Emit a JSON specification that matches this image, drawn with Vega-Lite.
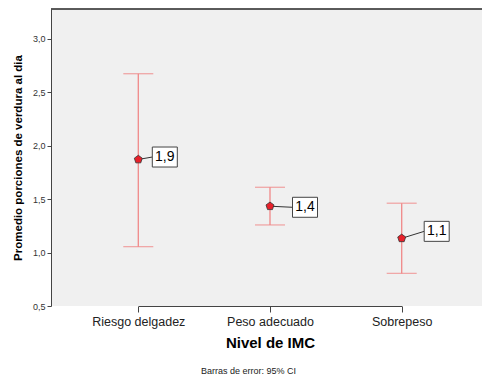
{
  "$schema": "https://vega.github.io/schema/vega-lite/v6.json",
  "width": 431,
  "height": 297,
  "autosize": {"type": "none"},
  "padding": {"left": 51, "top": 9, "right": 0, "bottom": 69},
  "background": "white",
  "config": {
    "font": "Liberation Sans",
    "view": {"stroke": null, "fill": "#f0f0f0"},
    "axis": {"grid": false, "domainColor": "#444", "tickColor": "#444", "labelColor": "#222", "titleColor": "#000", "titleFontWeight": "bold"}
  },
  "title": {"text": "Barras de error: 95% CI", "orient": "bottom", "fontSize": 9, "fontWeight": "normal", "color": "#222", "anchor": "middle", "dx": -18, "offset": 16},
  "data": {"values": [
    {"cat": "Riesgo delgadez", "mean": 1.87, "lo": 1.055, "hi": 2.672, "ly": 1.893, "lab": "1,9"},
    {"cat": "Peso adecuado", "mean": 1.433, "lo": 1.258, "hi": 1.61, "ly": 1.423, "lab": "1,4"},
    {"cat": "Sobrepeso", "mean": 1.133, "lo": 0.805, "hi": 1.461, "ly": 1.198, "lab": "1,1"}
  ]},
  "encoding": {
    "x": {"field": "cat", "type": "nominal", "sort": null,
      "scale": {"type": "point", "range": [87.3, 350.7], "padding": 0},
      "axis": {"title": "Nivel de IMC", "labelAngle": 0, "labelFontSize": 12.5, "tickSize": 6, "labelPadding": 3, "titleFontSize": 15, "titlePadding": 8}},
    "y": {"type": "quantitative"}
  },
  "layer": [
    {
      "mark": {"type": "rule", "color": "#f08888", "strokeWidth": 1.3},
      "encoding": {
        "y": {"field": "lo", "type": "quantitative",
          "scale": {"domain": [0.5, 3.277], "nice": false, "zero": false},
          "axis": {"title": "Promedio porciones de verdura al dia", "values": [0.5, 1, 1.5, 2, 2.5, 3], "labelExpr": "replace(format(datum.value, '.1f'), '.', ',')", "labelFontSize": 9, "labelColor": "#333", "tickSize": 4, "labelPadding": 2, "titleFontSize": 11.5, "titlePadding": 9}},
        "y2": {"field": "hi"}
      }
    },
    {
      "mark": {"type": "tick", "color": "#f08888", "thickness": 1.3, "size": 30, "orient": "horizontal"},
      "encoding": {"y": {"field": "lo", "type": "quantitative"}}
    },
    {
      "mark": {"type": "tick", "color": "#f08888", "thickness": 1.3, "size": 30, "orient": "horizontal"},
      "encoding": {"y": {"field": "hi", "type": "quantitative"}}
    },
    {
      "mark": {"type": "rule", "color": "#333", "strokeWidth": 1, "x2Offset": {"expr": "datum.cat === 'Riesgo delgadez' ? 14 : 22.5"}},
      "encoding": {
        "y": {"field": "mean", "type": "quantitative"},
        "x2": {"field": "cat"},
        "y2": {"field": "ly"}
      }
    },
    {
      "mark": {"type": "point", "shape": "M-1.25,-1H1.25V1H-1.25Z", "size": 400, "filled": true, "fill": "white", "stroke": "#444", "strokeWidth": 1, "opacity": 1, "xOffset": {"expr": "datum.cat === 'Riesgo delgadez' ? 26.5 : 35"}},
      "encoding": {"y": {"field": "ly", "type": "quantitative"}}
    },
    {
      "mark": {"type": "text", "fontSize": 14, "color": "#000", "align": "center", "baseline": "middle", "xOffset": {"expr": "datum.cat === 'Riesgo delgadez' ? 26.5 : 35"}},
      "encoding": {"y": {"field": "ly", "type": "quantitative"}, "text": {"field": "lab"}}
    },
    {
      "mark": {"type": "point", "shape": "M0,-1L0.951,-0.309L0.588,0.809L-0.588,0.809L-0.951,-0.309Z", "size": 70, "filled": true, "fill": "#e8202a", "stroke": "#333", "strokeWidth": 0.8, "opacity": 1},
      "encoding": {"y": {"field": "mean", "type": "quantitative"}}
    },
    {
      "mark": {"type": "rule", "color": "#444", "strokeWidth": 1},
      "encoding": {"y": {"datum": 3.277, "type": "quantitative"}, "x": {"value": 0}, "x2": {"value": 431}}
    }
  ]
}
